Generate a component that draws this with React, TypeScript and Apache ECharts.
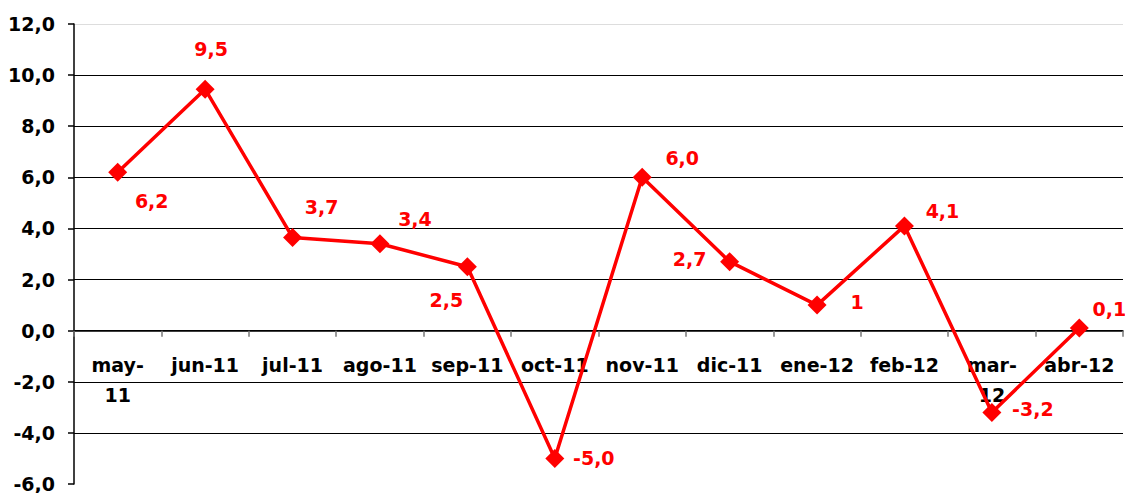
import React, { useEffect, useRef } from "react";
import * as echarts from "echarts";

const categories = ["may-11", "jun-11", "jul-11", "ago-11", "sep-11", "oct-11", "nov-11", "dic-11", "ene-12", "feb-12", "mar-12", "abr-12"];
const values = [6.2, 9.45, 3.65, 3.4, 2.5, -5.0, 6.0, 2.7, 1.0, 4.1, -3.2, 0.1];
const valueLabels = ["6,2", "9,5", "3,7", "3,4", "2,5", "-5,0", "6,0", "2,7", "1", "4,1", "-3,2", "0,1"];
const labelOffsets: [number, number][] = [
  [34, 29], [6, -40], [29, -30], [35, -25], [-21, 33], [39, 0],
  [40, -19], [-40, -3], [40, -3], [38, -15], [41, -3], [30, -19],
];
const wrappedLabels: Record<string, string> = { "may-11": "may-\n11", "mar-12": "mar-\n12" };

export default function App() {
  const ref = useRef<HTMLDivElement>(null);
  useEffect(() => {
    if (!ref.current) return;
    const chart = echarts.init(ref.current, null, { renderer: "svg" });
    const font = "'DejaVu Sans', sans-serif";
    chart.setOption({
      animation: false,
      grid: { left: 74, right: 2, top: 24, bottom: 9, containLabel: false, outerBoundsMode: "none" },
      xAxis: {
        type: "category",
        data: categories,
        boundaryGap: true,
        axisLine: { onZero: true, lineStyle: { color: "#000", width: 1.5 } },
        axisTick: { show: true, length: 6, lineStyle: { color: "#777", width: 1.5 } },
        axisLabel: {
          interval: 0,
          margin: -134,
          fontFamily: font,
          fontWeight: "bold",
          fontSize: 19,
          lineHeight: 30,
          color: "#000",
          hideOverlap: false,
          verticalAlign: "top",
          formatter: (v: string) => wrappedLabels[v] ?? v,
        },
        splitLine: { show: false },
      },
      yAxis: {
        type: "value",
        min: -6,
        max: 12,
        interval: 2,
        axisLine: { show: true, lineStyle: { color: "#000", width: 1.5 } },
        axisTick: { show: true, length: 6, lineStyle: { color: "#000", width: 1.5 } },
        axisLabel: {
          margin: 19,
          fontFamily: font,
          fontWeight: "bold",
          fontSize: 19,
          color: "#000",
          formatter: (v: number) => v.toFixed(1).replace(".", ","),
        },
        splitLine: {
          show: true,
          lineStyle: {
            color: ["transparent", "#000", "#000", "#000", "#000", "#000", "#000", "#000", "#000", "#ddd"],
            width: 1.2,
          },
        },
      },
      series: [
        {
          type: "line",
          data: values.map((v, i) => ({
            value: v,
            label: { offset: labelOffsets[i] },
          })),
          symbol: "diamond",
          symbolSize: 19,
          lineStyle: { color: "#ff0000", width: 3.5 },
          itemStyle: { color: "#ff0000" },
          label: {
            show: true,
            position: "inside",
            fontFamily: font,
            fontWeight: "bold",
            fontSize: 19,
            color: "#ff0000",
            formatter: (p: any) => valueLabels[p.dataIndex],
          },
          z: 5,
        },
      ],
    });
    return () => chart.dispose();
  }, []);
  return <div ref={ref} style={{ position: "absolute", left: 0, top: 0, width: 1125, height: 493 }} />;
}
